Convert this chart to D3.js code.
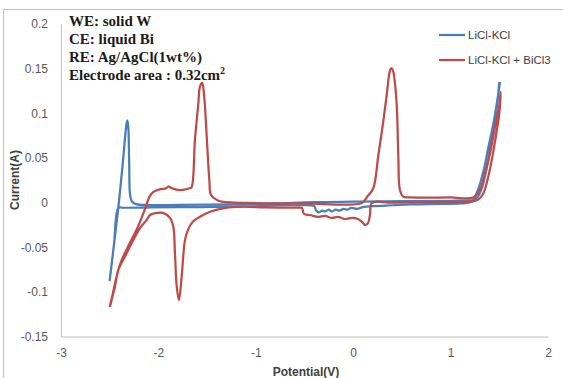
<!DOCTYPE html>
<html>
<head>
<meta charset="utf-8">
<script src="https://cdn.jsdelivr.net/npm/d3@7"></script>
<style>
  body { margin: 0; background: #fff; }
  .tick text { font-family: "Liberation Sans", Arial, sans-serif; font-size: 12px; fill: #595959; }
</style>
</head>
<body>
<div class="chart"></div>
<script>
// potential (V), current (A), in sweep order
const licl = [
  [1.50, 0.135], [1.48, 0.112], [1.45, 0.088], [1.41, 0.062], [1.37, 0.038],
  [1.32, 0.016], [1.27, 0.005], [1.22, 0.001], [1.10, -0.001], [0.90, -0.0015],
  [0.60, -0.002], [0.40, -0.003], [0.20, -0.004], [0.10, -0.005], [0.04, -0.007],
  [-0.02, -0.006], [-0.06, -0.008], [-0.10, -0.007], [-0.14, -0.009], [-0.18, -0.008],
  [-0.22, -0.010], [-0.25, -0.008], [-0.29, -0.010], [-0.32, -0.009], [-0.35, -0.011],
  [-0.38, -0.009], [-0.40, -0.004], [-0.60, -0.003], [-0.80, -0.0032], [-1.06, -0.0044],
  [-1.57, -0.005], [-2.09, -0.0055], [-2.36, -0.0058], [-2.41, -0.006], [-2.455, -0.046],
  [-2.50, -0.087],
  [-2.455, -0.046], [-2.41, -0.004], [-2.365, 0.045], [-2.333, 0.083], [-2.32, 0.092],
  [-2.31, 0.086], [-2.30, 0.045], [-2.29, 0.008], [-2.27, 0.001], [-2.22, -0.002],
  [-1.80, -0.0025], [-1.20, -0.002], [-0.80, -0.001], [-0.40, 0.0005], [0.00, 0.001],
  [0.50, 0.0015], [1.00, 0.002], [1.20, 0.0025], [1.23, 0.003], [1.28, 0.014],
  [1.34, 0.0365], [1.39, 0.063], [1.44, 0.089], [1.48, 0.115], [1.507, 0.135]
];

const licl_bi = [
  [-2.50, -0.117], [-2.47, -0.103], [-2.44, -0.088], [-2.39, -0.068], [-2.31, -0.049],
  [-2.21, -0.027], [-2.14, -0.008], [-2.09, 0.007], [-2.05, 0.012], [-1.98, 0.015],
  [-1.92, 0.016], [-1.90, 0.018], [-1.86, 0.016], [-1.78, 0.014], [-1.68, 0.016],
  [-1.66, 0.017], [-1.625, 0.07], [-1.59, 0.111], [-1.573, 0.130], [-1.55, 0.134],
  [-1.53, 0.119], [-1.504, 0.074], [-1.477, 0.025], [-1.46, 0.0085], [-1.40, 0.003],
  [-1.35, 0.001], [-1.00, -0.0006], [-0.50, -0.0008], [0.09, -0.0004], [0.142, 0.0063],
  [0.206, 0.016], [0.258, 0.053], [0.309, 0.091], [0.344, 0.1205], [0.371, 0.1448],
  [0.383, 0.1495], [0.395, 0.1504], [0.41, 0.1475], [0.422, 0.140], [0.447, 0.109],
  [0.463, 0.053], [0.480, 0.014],
  [0.514, 0.0066], [0.583, 0.0059], [1.00, 0.0057], [1.23, 0.0057], [1.30, 0.014],
  [1.353, 0.033], [1.405, 0.055], [1.456, 0.085], [1.497, 0.107], [1.514, 0.124],
  [1.50, 0.100], [1.47, 0.078], [1.43, 0.052], [1.38, 0.026], [1.33, 0.009],
  [1.28, 0.003], [1.20, 0.001], [0.80, 0.0005], [0.40, 0.0], [0.193, -0.0004],
  [0.172, -0.014], [0.152, -0.023], [0.121, -0.025], [0.09, -0.0217], [0.049, -0.0184],
  [-0.012, -0.0172], [-0.084, -0.0184], [-0.156, -0.0161], [-0.218, -0.0172], [-0.29, -0.015],
  [-0.361, -0.0161], [-0.444, -0.0139], [-0.505, -0.0128], [-0.526, -0.006], [-0.546, -0.0057],
  [-0.90, -0.0055], [-1.131, -0.0046], [-1.337, -0.0064], [-1.47, -0.0102], [-1.573, -0.0158],
  [-1.645, -0.0213], [-1.696, -0.0306], [-1.727, -0.0418], [-1.761, -0.0827], [-1.789, -0.1093],
  [-1.812, -0.0939], [-1.83, -0.0566], [-1.847, -0.0269], [-1.881, -0.0172], [-1.953, -0.0116],
  [-2.014, -0.0116], [-2.086, -0.0139], [-2.12, -0.0194], [-2.189, -0.0287], [-2.274, -0.0455],
  [-2.343, -0.0604], [-2.412, -0.0755], [-2.446, -0.0942], [-2.463, -0.1016], [-2.497, -0.1166]
];

const xTicks = [-3, -2, -1, 0, 1, 2];
const yTicks = [-0.15, -0.1, -0.05, 0, 0.05, 0.1, 0.15, 0.2];
const seriesNames = ["LiCl-KCl", "LiCl-KCl + BiCl3"];
const seriesColors = ["#4a7ebb", "#be4b48"];
const notes = ["WE: solid W", "CE: liquid Bi", "RE: Ag/AgCl(1wt%)", "Electrode area : 0.32cm"];

const width = 563, height = 378;

const svg = d3.select(".chart").append("svg")
    .attr("width", width)
    .attr("height", height);

// chart frame
svg.append("rect")
    .attr("x", 3.5).attr("y", 9.5)
    .attr("width", 600).attr("height", 400)
    .attr("fill", "none")
    .attr("stroke", "#bfbfbf");

const xScale = d3.scaleLinear().domain([-3, 2]).range([61, 548]);
const yScale = d3.scaleLinear().domain([-0.15, 0.2]).range([336.5, 24]);

const xAxis = d3.axisBottom(xScale)
    .tickValues(xTicks)
    .tickSize(0)
    .tickPadding(12)
    .tickFormat(d => String(d));

const yAxis = d3.axisLeft(yScale)
    .tickValues(yTicks)
    .tickSize(0)
    .tickPadding(13)
    .tickFormat(d => String(+d.toFixed(2)));

svg.append("g")
    .attr("class", "axis x-axis")
    .attr("transform", `translate(0, ${yScale(-0.15)})`)
    .call(xAxis)
    .call(g => g.select(".domain").attr("stroke", "#bfbfbf"));

svg.append("g")
    .attr("class", "axis y-axis")
    .attr("transform", `translate(${xScale(-3)}, 0)`)
    .call(yAxis)
    .call(g => g.select(".domain").attr("stroke", "#bfbfbf"));

svg.append("text")
    .attr("text-anchor", "middle")
    .attr("x", 306)
    .attr("y", 376)
    .attr("font-family", "Liberation Sans, Arial, sans-serif")
    .attr("font-size", 12)
    .attr("font-weight", "bold")
    .attr("fill", "#404040")
    .text("Potential(V)");

svg.append("text")
    .attr("text-anchor", "middle")
    .attr("transform", "translate(19,180) rotate(-90)")
    .attr("font-family", "Liberation Sans, Arial, sans-serif")
    .attr("font-size", 12)
    .attr("font-weight", "bold")
    .attr("fill", "#404040")
    .text("Current(A)");

const line = d3.line()
    .curve(d3.curveCatmullRom.alpha(0.5))
    .x(d => xScale(d[0]))
    .y(d => yScale(d[1]));

[licl, licl_bi].forEach((s, i) => {
    svg.append("path")
        .datum(s)
        .attr("fill", "none")
        .attr("stroke", seriesColors[i])
        .attr("stroke-width", 2.25)
        .attr("stroke-linejoin", "round")
        .attr("d", line);
});

// legend
const legend = svg.append("g")
    .attr("font-family", "Liberation Sans, Arial, sans-serif")
    .attr("font-size", 11.5)
    .selectAll("g")
    .data(seriesNames)
    .join("g")
    .attr("transform", (d, i) => `translate(439, ${35 + i * 25})`);

legend.append("line")
    .attr("x1", 0).attr("x2", 26)
    .attr("stroke", (d, i) => seriesColors[i])
    .attr("stroke-width", 2.25);

legend.append("text")
    .attr("x", 29)
    .attr("dy", "0.35em")
    .attr("fill", "#404040")
    .text(d => d);

// experiment notes
const note = svg.append("text")
    .attr("font-family", "Liberation Serif, Times New Roman, serif")
    .attr("font-size", 15)
    .attr("font-weight", "bold")
    .attr("fill", "#1a1a1a");

notes.forEach((t, i) => {
    note.append("tspan")
        .attr("x", 69)
        .attr("y", 26 + i * 18)
        .text(t);
});
note.append("tspan")
    .attr("dy", -6)
    .attr("font-size", 10)
    .text("2");
</script>
</body>
</html>
